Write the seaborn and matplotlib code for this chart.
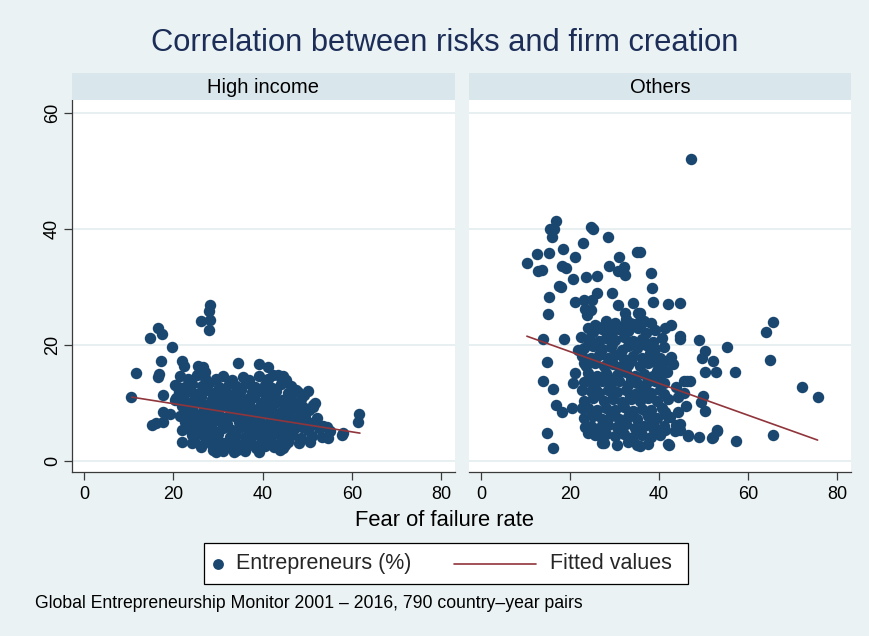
import matplotlib
matplotlib.use("Agg")
import matplotlib.pyplot as plt
import numpy as np
import pandas as pd
import seaborn as sns
from matplotlib.lines import Line2D
from matplotlib.patches import Rectangle

# ---------------------------------------------------------------
# Data: (fear of failure rate, entrepreneurs %) per country-year
# ---------------------------------------------------------------
high_income_points = [
    (10.6, 11.0), (11.6, 15.1), (14.8, 21.2), (16.6, 22.9), (17.4, 21.8), (19.8, 19.6),
    (17.3, 17.2), (16.8, 15.0), (16.6, 14.4), (15.2, 6.2), (16.1, 6.5), (17.7, 6.7),
    (17.7, 8.4), (19.2, 8.1), (17.7, 11.4), (22.0, 17.2), (22.3, 16.4), (28.2, 26.9),
    (28.0, 25.9), (26.2, 24.1), (28.2, 24.3), (28.0, 22.6), (34.5, 16.9), (25.5, 16.4),
    (26.6, 16.2), (27.1, 15.3), (39.2, 16.7), (41.2, 16.2), (44.5, 14.7), (42.3, 14.9),
    (47.9, 11.9), (50.1, 12.1), (51.7, 10.0), (51.2, 9.3), (61.7, 8.1), (61.3, 6.7),
    (57.7, 4.5), (57.9, 4.8), (54.6, 4.0), (53.2, 4.1), (50.6, 3.3), (44.5, 2.2),
    (28.9, 1.9), (34.2, 1.9), (21.3, 12.2), (20.6, 10.9), (22.0, 9.4), (22.0, 5.3),
    (22.0, 3.3), (24.2, 3.1), (21.0, 12.8), (20.4, 10.5), (36.5, 13.4), (48.8, 5.9),
    (54.4, 5.9),
    (21.5, 14.6), (23.2, 14.1), (25.4, 14.8), (27.1, 14.3), (29.6, 14.2), (31.2, 14.7),
    (33.1, 14.0), (35.6, 14.5), (37.0, 13.9), (39.1, 14.6), (41.3, 14.2), (43.4, 14.8),
    (45.2, 13.9),
    (20.4, 13.1), (22.6, 12.8), (24.1, 13.3), (26.5, 12.9), (28.1, 13.4), (30.2, 12.7),
    (32.4, 13.2), (34.1, 12.9), (36.2, 13.4), (38.4, 12.8), (40.6, 13.1), (42.1, 12.6),
    (44.2, 13.3), (46.4, 12.9),
    (21.2, 11.8), (23.6, 12.1), (25.1, 11.6), (27.6, 12.2), (29.1, 11.7), (31.5, 12.0),
    (33.6, 11.5), (35.1, 12.3), (37.6, 11.8), (39.6, 12.1), (41.4, 11.6), (43.1, 12.0),
    (45.6, 11.7), (47.4, 12.3), (49.3, 11.4),
    (22.1, 10.9), (24.6, 10.6), (26.1, 11.1), (28.6, 10.7), (30.4, 11.2), (32.2, 10.5),
    (34.6, 11.0), (36.4, 10.6), (38.1, 11.1), (40.2, 10.4), (42.6, 10.9), (44.4, 10.5),
    (46.1, 11.0), (48.6, 10.6),
    (23.1, 9.8), (25.2, 10.1), (27.1, 9.6), (29.6, 9.9), (31.1, 9.5), (33.2, 10.0),
    (35.1, 9.7), (37.2, 9.4), (39.6, 9.9), (41.1, 9.6), (43.2, 10.1), (45.1, 9.5),
    (47.2, 9.8), (49.1, 9.3), (51.4, 9.7),
    (22.6, 8.8), (24.2, 9.1), (26.6, 8.6), (28.2, 8.9), (30.1, 8.4), (32.6, 8.8),
    (34.2, 8.5), (36.1, 9.0), (38.6, 8.6), (40.6, 8.3), (42.1, 8.8), (44.1, 8.4),
    (46.6, 8.9), (48.2, 8.5), (50.4, 8.7),
    (21.6, 7.8), (23.6, 7.5), (25.6, 8.0), (27.6, 7.6), (29.6, 7.9), (31.6, 7.4),
    (33.6, 7.8), (35.6, 7.5), (37.6, 7.9), (39.1, 7.3), (41.6, 7.7), (43.6, 7.4),
    (45.6, 7.8), (47.6, 7.3), (49.6, 7.6), (52.1, 7.4),
    (22.6, 6.7), (24.6, 6.4), (26.1, 6.9), (28.6, 6.5), (30.6, 6.8), (32.1, 6.3),
    (34.6, 6.7), (36.6, 6.4), (38.1, 6.8), (40.1, 6.3), (42.1, 6.6), (44.6, 6.2),
    (46.1, 6.7), (48.6, 6.3), (51.1, 6.5), (53.6, 6.1),
    (23.1, 5.6), (25.1, 5.3), (27.1, 5.7), (29.1, 5.2), (31.1, 5.6), (33.1, 5.4),
    (35.1, 5.8), (37.1, 5.3), (39.1, 5.7), (41.1, 5.2), (43.1, 5.6), (45.1, 5.3),
    (47.1, 5.5), (50.1, 5.4), (52.6, 5.6), (55.1, 5.2),
    (24.1, 4.4), (26.1, 4.7), (28.1, 4.3), (30.1, 4.6), (32.6, 4.2), (34.1, 4.5),
    (36.1, 4.1), (38.6, 4.6), (40.6, 4.3), (42.1, 4.5), (44.1, 4.1), (46.6, 4.4),
    (48.6, 4.0), (51.1, 4.3),
    (24.6, 3.5), (27.1, 3.2), (29.1, 3.6), (31.1, 3.1), (33.6, 3.4), (35.6, 3.0),
    (37.1, 3.5), (39.6, 3.2), (41.6, 3.4), (43.6, 3.0), (45.6, 3.3), (48.1, 3.1),
    (26.1, 2.4), (28.6, 2.7), (30.6, 2.3), (32.1, 2.6), (34.6, 2.2), (36.6, 2.5),
    (38.6, 2.3), (40.6, 2.6), (42.6, 2.4), (45.1, 2.7),
    (29.6, 1.6), (31.1, 1.8), (33.6, 1.5), (36.1, 1.7), (39.1, 1.6), (43.8, 1.9),
]

other_points = [
    (47.1, 52.1),
    (16.8, 41.4), (15.5, 40.0), (16.3, 39.9), (15.9, 38.6), (24.7, 40.3), (25.1, 40.0),
    (28.5, 38.6), (22.9, 37.6), (18.4, 36.5), (15.2, 35.8), (12.6, 35.7), (10.3, 34.1),
    (12.8, 32.8), (13.7, 32.9), (18.2, 33.6), (19.1, 33.3), (21.1, 35.2), (20.6, 31.4),
    (23.5, 31.7), (26.0, 31.9), (28.7, 33.6), (30.9, 35.2), (30.7, 32.8), (32.1, 33.4),
    (32.3, 32.1), (35.0, 36.0), (17.5, 30.2), (17.9, 29.9), (15.2, 28.3), (15.0, 25.3),
    (21.1, 27.4), (23.1, 27.8), (24.9, 27.8), (26.0, 29.0), (29.4, 29.0), (30.7, 26.9),
    (23.3, 26.2), (24.7, 26.1), (23.8, 25.2), (13.9, 21.0), (18.6, 21.0), (22.4, 21.4),
    (24.0, 22.9), (25.6, 23.4), (28.3, 22.9), (29.6, 22.7), (32.3, 25.5), (33.4, 23.8),
    (34.1, 27.2), (35.2, 25.5),
    (38.1, 32.4), (38.3, 29.8), (38.6, 27.4), (41.9, 27.1), (44.8, 27.3), (41.3, 22.9),
    (42.6, 23.4), (44.8, 21.6), (44.8, 21.0), (48.9, 20.9), (50.2, 19.0), (49.6, 17.8),
    (52.2, 17.3), (55.2, 19.7), (50.2, 15.4), (52.7, 15.4), (57.0, 15.4), (63.9, 22.3),
    (65.5, 24.0), (65.0, 17.4), (72.2, 12.8), (75.6, 11.0), (65.5, 4.5), (57.2, 3.5),
    (52.9, 5.2), (51.8, 4.0), (48.9, 4.1), (46.6, 4.5), (50.4, 8.6), (49.8, 11.2),
    (49.3, 10.2), (46.0, 9.5), (46.9, 13.8), (45.7, 13.8), (43.9, 12.8), (45.7, 11.7),
    (44.2, 11.0), (41.7, 15.4), (39.5, 15.5), (39.5, 17.8), (37.9, 18.6), (36.3, 20.9),
    (36.3, 24.0), (35.6, 25.5), (35.6, 36.0), (43.7, 6.2), (41.9, 2.9), (44.6, 6.3),
    (40.1, 4.8), (33.2, 22.7), (35.6, 24.1), (44.2, 8.5), (42.4, 7.6), (38.6, 6.5),
    (41.3, 5.3), (44.6, 5.3), (43.5, 5.1), (46.4, 4.3), (52.0, 4.1), (53.0, 5.3),
    (42.2, 2.8), (35.6, 2.6), (46.2, 13.7),
    (14.8, 17.1), (13.9, 13.8), (16.1, 12.4), (16.8, 9.7), (18.2, 8.5), (20.4, 9.1),
    (22.6, 9.1), (14.8, 4.8), (16.1, 2.2), (21.1, 15.2), (20.6, 13.4), (22.6, 12.2),
    (21.7, 19.1), (23.1, 16.9), (23.3, 5.9), (24.0, 4.8), (27.1, 4.0), (27.1, 3.1),
    (25.8, 12.2),
    (28.1, 24.2), (30.2, 23.8), (32.6, 24.4), (34.1, 23.6), (36.6, 24.1), (38.2, 23.7),
    (26.3, 23.1), (31.9, 23.3), (35.8, 23.2),
    (25.1, 22.3), (27.2, 22.8), (29.4, 22.2), (31.1, 22.7), (33.1, 22.4), (35.2, 22.9),
    (37.1, 22.1), (39.1, 22.6),
    (24.1, 21.1), (26.6, 20.7), (28.1, 21.2), (30.1, 20.8), (32.2, 21.3), (34.1, 20.6),
    (36.1, 21.0), (38.6, 20.5), (40.6, 21.2),
    (25.4, 20.3), (29.4, 20.1), (33.4, 20.4), (37.6, 20.2),
    (23.1, 19.4), (25.1, 19.8), (27.1, 19.3), (29.1, 19.7), (31.6, 19.2), (33.1, 19.8),
    (35.1, 19.4), (37.1, 19.9), (39.1, 19.3), (41.1, 19.6),
    (22.6, 18.1), (24.6, 17.7), (26.6, 18.2), (28.6, 17.8), (30.1, 18.3), (32.1, 17.6),
    (34.1, 18.1), (36.1, 17.7), (38.1, 18.2), (40.1, 17.8), (42.6, 18.0),
    (25.2, 17.1), (29.1, 17.3), (33.6, 17.2), (39.1, 17.1), (41.6, 17.3),
    (23.6, 16.4), (25.6, 16.8), (27.6, 16.3), (29.6, 16.7), (31.1, 16.2), (33.1, 16.6),
    (35.6, 16.3), (37.6, 16.8), (40.1, 16.4), (43.1, 16.7),
    (24.1, 15.1), (26.1, 14.7), (28.1, 15.2), (30.6, 14.8), (32.6, 15.3), (34.6, 14.6),
    (36.6, 15.0), (38.6, 14.7),
    (25.3, 14.3), (29.4, 14.1), (33.7, 14.2), (37.8, 14.3), (40.3, 14.6),
    (23.1, 13.6), (25.1, 13.2), (27.1, 13.7), (29.1, 13.3), (31.1, 13.8), (33.1, 13.1),
    (35.1, 13.5), (37.1, 13.2), (39.1, 13.7), (41.1, 13.4),
    (24.6, 12.1), (26.6, 11.7), (28.6, 12.2), (30.6, 11.8), (32.6, 12.3), (34.6, 11.6),
    (36.1, 12.0), (38.1, 11.7), (40.1, 12.2),
    (25.8, 11.3), (29.7, 11.1), (33.4, 11.2), (37.2, 11.3), (41.2, 11.6),
    (23.1, 10.4), (25.1, 10.8), (27.6, 10.3), (29.6, 10.7), (31.6, 10.2), (33.6, 10.6),
    (35.6, 10.3), (37.6, 10.8), (39.6, 10.4), (42.1, 10.6),
    (24.1, 9.1), (26.1, 8.7), (28.1, 9.2), (30.1, 8.8), (32.1, 9.3), (34.1, 8.6),
    (36.1, 9.0), (38.1, 8.7), (40.6, 9.2),
    (25.2, 8.2), (29.3, 8.1), (33.2, 8.0), (37.2, 8.2), (41.4, 8.4),
    (23.1, 7.4), (25.1, 7.8), (27.1, 7.3), (29.1, 7.7), (31.1, 7.2), (33.1, 7.6),
    (35.1, 7.3), (37.6, 7.8), (39.6, 7.4), (42.1, 7.6),
    (24.6, 6.1), (26.6, 5.7), (28.6, 6.2), (30.6, 5.8), (32.6, 6.3), (34.6, 5.6),
    (36.6, 6.0), (38.6, 5.7), (41.1, 6.1),
    (27.3, 5.1), (31.4, 5.2), (35.6, 5.0), (39.6, 5.3),
    (25.6, 4.4), (28.1, 4.7), (30.1, 4.3), (32.1, 4.6), (34.1, 4.2), (36.1, 4.5),
    (38.1, 4.1), (40.1, 4.4),
    (27.6, 3.1), (30.6, 2.8), (33.1, 3.2), (35.1, 2.7), (37.6, 3.0),
]

# Linear fit (fitted values) at the ends of each group's x range
high_income_fit_x = [10.7, 61.8]
high_income_fit_y = [11.0, 4.8]
other_fit_x = [10.3, 75.6]
other_fit_y = [21.5, 3.6]

panel_titles = ["High income", "Others"]
x_ticks = [0, 20, 40, 60, 80]
y_ticks = [0, 20, 40, 60]

title_text = "Correlation between risks and firm creation"
x_label = "Fear of failure rate"
legend_labels = ["Entrepreneurs (%)", "Fitted values"]
note_text = "Global Entrepreneurship Monitor 2001 \u2013 2016, 790 country\u2013year pairs"

# ---------------------------------------------------------------
# Styling
# ---------------------------------------------------------------
sns.set_theme(style="white")
plt.rcParams["font.family"] = ["Liberation Sans", "DejaVu Sans"]

BG = "#EAF2F3"
STRIP = "#D9E6EB"
NAVY = "#1A476F"
MAROON = "#90353B"
GRID = "#E8EFF1"
AXIS = "#3A3A3A"
TITLE = "#1C2D58"

W, H = 870, 636
fig = plt.figure(figsize=(W / 100, H / 100), dpi=100, facecolor=BG)


def box(x0, y0, x1, y1):
    """Pixel box (top-left origin) -> figure-fraction rect."""
    return [x0 / W, 1 - y1 / H, (x1 - x0) / W, (y1 - y0) / H]


panels = [
    (box(72, 100, 455, 472), box(72, 73, 455, 100), high_income_points,
     high_income_fit_x, high_income_fit_y, True),
    (box(469, 100, 851, 472), box(469, 73, 851, 100), other_points,
     other_fit_x, other_fit_y, False),
]

for (rect, strip_rect, pts, fx, fy, show_y), name in zip(panels, panel_titles):
    ax = fig.add_axes(rect)
    ax.set_facecolor("white")
    df = pd.DataFrame(pts, columns=["fear", "entre"])
    fit = pd.DataFrame({"fear": fx, "entre": fy})

    sns.scatterplot(data=df, x="fear", y="entre", ax=ax, color=NAVY, s=68,
                    linewidth=0, edgecolor=NAVY, legend=False, zorder=3)
    sns.lineplot(data=fit, x="fear", y="entre", ax=ax, color=MAROON,
                 linewidth=1.2, legend=False, zorder=4)

    ax.set_xlim(-2.7, 83.1)
    ax.set_ylim(-1.9, 62.2)
    ax.set_xticks(x_ticks)
    ax.set_yticks(y_ticks)
    ax.set_xlabel("")
    ax.set_ylabel("")
    ax.yaxis.grid(True, color=GRID, linewidth=1.4)
    ax.xaxis.grid(False)
    ax.set_axisbelow(True)

    for side in ("top", "right"):
        ax.spines[side].set_visible(False)
    ax.spines["bottom"].set_color(AXIS)
    ax.spines["bottom"].set_linewidth(0.9)
    ax.tick_params(axis="x", direction="out", length=6, width=0.9, color=AXIS,
                   labelsize=13, labelcolor="black", pad=4, bottom=True)
    if show_y:
        ax.spines["left"].set_color(AXIS)
        ax.spines["left"].set_linewidth(0.9)
        ax.tick_params(axis="y", direction="out", length=6, width=0.9, color=AXIS,
                       labelsize=13, labelcolor="black", pad=2, left=True,
                       labelrotation=90)
        for lbl in ax.get_yticklabels():
            lbl.set_va("center")
    else:
        ax.spines["left"].set_visible(False)
        ax.tick_params(axis="y", left=False, labelleft=False)

    sax = fig.add_axes(strip_rect)
    sax.set_facecolor(STRIP)
    sax.set_xticks([])
    sax.set_yticks([])
    for sp in sax.spines.values():
        sp.set_visible(False)
    sax.text(0.5, 0.47, name, transform=sax.transAxes, ha="center", va="center",
             fontsize=14.5, color="black")

# Title, axis title, note
fig.text(445 / W, 1 - 43 / H, title_text, ha="center", va="center",
         fontsize=22.2, color=TITLE)
fig.text(445 / W, 1 - 521 / H, x_label, ha="center", va="center",
         fontsize=15.8, color="black")
fig.text(35 / W, 1 - 603 / H, note_text, ha="left", va="center",
         fontsize=12.7, color="black")

# Legend box
fig.add_artist(Rectangle((204 / W, 1 - 584 / H), (688 - 204) / W, (584 - 543) / H,
                         transform=fig.transFigure, facecolor="white",
                         edgecolor="black", linewidth=0.9))
ly = 1 - 563.5 / H
fig.add_artist(Line2D([218 / W], [ly], marker="o", linestyle="", color=NAVY,
                      markersize=7.8, markeredgewidth=0, transform=fig.transFigure))
fig.text(236 / W, ly, legend_labels[0], ha="left", va="center", fontsize=15.5)
fig.add_artist(Line2D([454 / W, 536 / W], [ly, ly], color=MAROON, linewidth=1.2,
                      transform=fig.transFigure))
fig.text(550 / W, ly, legend_labels[1], ha="left", va="center", fontsize=15.5)

fig.savefig("out.png", dpi=100, facecolor=BG)
